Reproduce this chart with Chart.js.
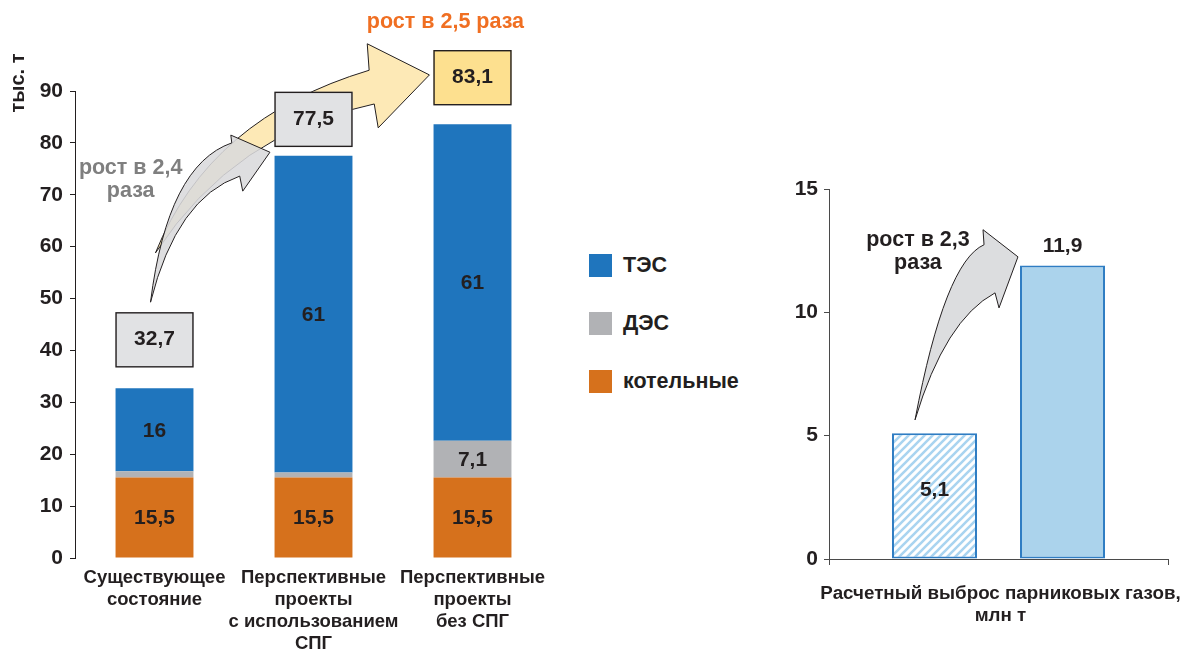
<!DOCTYPE html>
<html lang="ru">
<head>
<meta charset="utf-8">
<script src="https://cdn.jsdelivr.net/npm/chart.js@4.4.1/dist/chart.umd.min.js"></script>
<style>
  body { margin: 0; background: #fff; width: 1184px; height: 653px; position: relative; overflow: hidden;
         font-family: 'Liberation Sans', Arial, sans-serif; }
  #left { position: absolute; left: 0; top: 0; }
  #right { position: absolute; left: 760px; top: 0; }
  .legend { position: absolute; left: 589px; top: 254px; }
  .legend-item { display: flex; align-items: center; height: 23px; margin-bottom: 35px;
                 font-weight: bold; font-size: 21.5px; color: #231f20; }
  .legend-box { width: 23px; height: 23px; margin-right: 11px; }
</style>
</head>
<body>
<canvas id="left" width="560" height="653"></canvas>
<div class="legend" id="legend"></div>
<canvas id="right" width="424" height="653"></canvas>
<script>
const FONT = "'Liberation Sans', Arial, sans-serif";
const INK = '#231f20';

// left chart: fuel consumption by source, тыс. т
const categories = [
  ['Существующее', 'состояние'],
  ['Перспективные', 'проекты', 'с использованием', 'СПГ'],
  ['Перспективные', 'проекты', 'без СПГ']
];
const boilers = [15.5, 15.5, 15.5];      // котельные
const dieselPlants = [1.2, 1.0, 7.1];    // ДЭС
const thermalPlants = [16, 61, 61];      // ТЭС
const totals = [32.7, 77.5, 83.1];
const leftTicks = [0, 10, 20, 30, 40, 50, 60, 70, 80, 90];

// right chart: greenhouse gas emissions, млн т
const emissions = [5.1, 11.9];
const emissionSlots = [1, 2];
const rightTicks = [0, 5, 10, 15];
const emissionTitle = ['Расчетный выброс парниковых газов,', 'млн т'];

const fmt = v => String(v).replace('.', ',');
const font = (size) => 'bold ' + size + 'px ' + FONT;

function at(chart, p) {
  return { x: chart.scales.x.getPixelForValue(p[0]), y: chart.scales.y.getPixelForValue(p[1]) };
}

// curved block arrow, points given in data space of the chart
function drawArrow(chart, a, fill) {
  const ctx = chart.ctx;
  const P = k => at(chart, a[k]);
  const tail = P('tail'), oc = P('outerCtrl'), so = P('shaftOuter'), bo = P('barbOuter'),
        tip = P('tip'), bi = P('barbInner'), si = P('shaftInner'), ic = P('innerCtrl');
  ctx.save();
  ctx.beginPath();
  ctx.moveTo(tail.x, tail.y);
  ctx.quadraticCurveTo(oc.x, oc.y, so.x, so.y);
  ctx.lineTo(bo.x, bo.y);
  ctx.lineTo(tip.x, tip.y);
  ctx.lineTo(bi.x, bi.y);
  ctx.lineTo(si.x, si.y);
  ctx.quadraticCurveTo(ic.x, ic.y, tail.x, tail.y);
  ctx.closePath();
  ctx.fillStyle = fill;
  ctx.fill();
  ctx.lineWidth = 1;
  ctx.strokeStyle = INK;
  ctx.lineJoin = 'miter';
  ctx.stroke();
  ctx.restore();
}

function drawNote(chart, note) {
  const ctx = chart.ctx;
  const p = at(chart, note.at);
  ctx.save();
  ctx.font = font(21.5);
  ctx.fillStyle = note.color;
  ctx.textAlign = 'center';
  ctx.textBaseline = 'middle';
  note.lines.forEach((t, i) => ctx.fillText(t, p.x, p.y + i * 23));
  ctx.restore();
}

const yellowArrow = {
  tail: [0.006, 58.8], outerCtrl: [0.347, 84.8], shaftOuter: [1.350, 94.0], barbOuter: [1.338, 99.1],
  tip: [1.729, 93.1], barbInner: [1.407, 82.9], shaftInner: [1.382, 87.5], innerCtrl: [0.505, 82.1]
};
const greyArrow = {
  tail: [-0.025, 49.3], outerCtrl: [0.082, 75.7], shaftOuter: [0.486, 80.0], barbOuter: [0.480, 81.5],
  tip: [0.726, 78.2], barbInner: [0.555, 70.7], shaftInner: [0.536, 73.6], innerCtrl: [0.139, 69.4]
};
const emissionArrow = {
  tail: [0.848, 5.64], outerCtrl: [1.082, 12.05], shaftOuter: [1.387, 12.74], barbOuter: [1.379, 13.35],
  tip: [1.652, 12.25], barbInner: [1.504, 10.18], shaftInner: [1.473, 10.79], innerCtrl: [1.082, 9.70]
};

const boxFills = ['#e1e2e4', '#e1e2e4', '#fde08f'];
const boxGaps = [22, 10, 20];

const leftDecor = {
  id: 'leftDecor',
  afterDatasetsDraw(chart) {
    const ctx = chart.ctx;
    const area = chart.chartArea;

    // values inside the stacked segments
    ctx.save();
    ctx.font = font(21);
    ctx.fillStyle = INK;
    ctx.textAlign = 'center';
    ctx.textBaseline = 'middle';
    chart.data.datasets.forEach((ds, di) => {
      chart.getDatasetMeta(di).data.forEach((el, i) => {
        if (ds.data[i] < 3) return;
        ctx.fillText(fmt(ds.data[i]), el.x, (el.y + el.base) / 2 + 1);
      });
    });
    ctx.restore();

    drawArrow(chart, yellowArrow, '#fde9b6');

    // total boxes above the bars
    const top = chart.getDatasetMeta(chart.data.datasets.length - 1).data;
    top.forEach((el, i) => {
      const w = el.width;
      const bottom = el.y - boxGaps[i];
      ctx.save();
      ctx.fillStyle = boxFills[i];
      ctx.fillRect(el.x - w / 2, bottom - 54, w, 54);
      ctx.strokeStyle = INK;
      ctx.lineWidth = 1.4;
      ctx.strokeRect(el.x - w / 2 + 0.5, bottom - 54 + 0.5, w - 1, 54);
      ctx.font = font(21);
      ctx.fillStyle = INK;
      ctx.textAlign = 'center';
      ctx.textBaseline = 'middle';
      ctx.fillText(fmt(totals[i]), el.x, bottom - 27);
      ctx.restore();
    });

    drawArrow(chart, greyArrow, 'rgba(217,218,220,0.88)');

    drawNote(chart, { lines: ['рост в 2,4', 'раза'], at: [-0.15, 75.2], color: '#7f7f7f' });
    drawNote(chart, { lines: ['рост в 2,5 раза'], at: [1.83, 103.3], color: '#f06f22' });

    // axis unit
    ctx.save();
    ctx.translate(18, area.top - 8);
    ctx.rotate(-Math.PI / 2);
    ctx.font = font(20);
    ctx.fillStyle = INK;
    ctx.textAlign = 'center';
    ctx.textBaseline = 'middle';
    ctx.fillText('тыс. т', 0, 0);
    ctx.restore();
  }
};

const leftChart = new Chart(document.getElementById('left'), {
  type: 'bar',
  data: {
    labels: categories,
    datasets: [
      { label: 'котельные', data: boilers, backgroundColor: '#d6711c' },
      { label: 'ДЭС', data: dieselPlants, backgroundColor: '#b1b2b5' },
      { label: 'ТЭС', data: thermalPlants, backgroundColor: '#1f75bd' }
    ]
  },
  options: {
    responsive: false,
    animation: false,
    layout: { padding: { top: 91, right: 8, left: 0, bottom: 0 } },
    datasets: { bar: { categoryPercentage: 1, barPercentage: 0.49 } },
    plugins: { legend: { display: false }, tooltip: { enabled: false } },
    scales: {
      x: {
        stacked: true,
        grid: { display: false, drawTicks: false },
        border: { display: false },
        ticks: { color: INK, font: { family: FONT, size: 18.5, weight: 'bold', lineHeight: 1.19 },
                 padding: 9, maxRotation: 0, autoSkip: false },
        afterFit: s => { s.height = 95; }
      },
      y: {
        stacked: true, min: 0, max: 90,
        afterBuildTicks: s => { s.ticks = leftTicks.map(v => ({ value: v })); },
        grid: { drawOnChartArea: false, tickLength: 5, color: INK },
        border: { color: INK, width: 1 },
        ticks: { color: INK, font: { family: FONT, size: 21, weight: 'bold' }, padding: 7 },
        afterFit: s => { s.width = 75; }
      }
    }
  },
  plugins: [leftDecor]
});

// legend, top to bottom as ТЭС, ДЭС, котельные
const legendEl = document.getElementById('legend');
leftChart.data.datasets.slice().reverse().forEach(ds => {
  const item = document.createElement('div');
  item.className = 'legend-item';
  item.innerHTML = '<div class="legend-box" style="background:' + ds.backgroundColor + '"></div>' + ds.label;
  legendEl.appendChild(item);
});

function stripes() {
  const c = document.createElement('canvas');
  c.width = 8; c.height = 8;
  const g = c.getContext('2d');
  g.fillStyle = '#ffffff';
  g.fillRect(0, 0, 8, 8);
  g.strokeStyle = '#a9d4f0';
  g.lineWidth = 2.6;
  g.beginPath();
  g.moveTo(-2, 10); g.lineTo(10, -2);
  g.moveTo(-2, 2); g.lineTo(2, -2);
  g.moveTo(6, 10); g.lineTo(10, 6);
  g.stroke();
  return g.createPattern(c, 'repeat');
}

const rightDecor = {
  id: 'rightDecor',
  afterDatasetsDraw(chart) {
    const ctx = chart.ctx;
    const area = chart.chartArea;
    const els = chart.getDatasetMeta(0).data;
    ctx.save();
    ctx.font = font(21);
    ctx.fillStyle = INK;
    ctx.textAlign = 'center';
    ctx.textBaseline = 'middle';
    ctx.fillText(fmt(emissions[0]), els[0].x, (els[0].y + els[0].base) / 2 - 6);
    ctx.fillText(fmt(emissions[1]), els[1].x, els[1].y - 19);

    // axis caption under the x axis, allowed to run past the plot edges
    ctx.font = font(18.8);
    emissionTitle.forEach((t, i) => ctx.fillText(t, (area.left + area.right) / 2 + 2, area.bottom + 35 + i * 22));
    ctx.restore();

    drawArrow(chart, emissionArrow, '#dcdddf');
    drawNote(chart, { lines: ['рост в 2,3', 'раза'], at: [0.871, 12.94], color: INK });
  }
};

new Chart(document.getElementById('right'), {
  type: 'bar',
  data: {
    datasets: [{
      data: emissionSlots.map((x, i) => ({ x: x, y: emissions[i] })),
      backgroundColor: [stripes(), '#abd3ec'],
      borderColor: '#2f7dc3',
      borderWidth: 2,
      borderSkipped: false
    }]
  },
  options: {
    responsive: false,
    animation: false,
    layout: { padding: { top: 189, right: 16, left: 0, bottom: 0 } },
    datasets: { bar: { categoryPercentage: 1, barPercentage: 0.664 } },
    plugins: { legend: { display: false }, tooltip: { enabled: false } },
    scales: {
      x: {
        type: 'linear', min: 0.176, max: 2.824, offset: false,
        afterBuildTicks: s => { s.ticks = [{ value: s.min }, { value: s.max }]; },
        grid: { drawOnChartArea: false, tickLength: 6, color: '#4a4a4a', offset: false },
        border: { color: '#4a4a4a', width: 1 },
        ticks: { callback: () => '' },
        afterFit: s => { s.height = 94; }
      },
      y: {
        min: 0, max: 15,
        afterBuildTicks: s => { s.ticks = rightTicks.map(v => ({ value: v })); },
        grid: { drawOnChartArea: false, tickLength: 5, color: '#4a4a4a' },
        border: { color: '#4a4a4a', width: 1 },
        ticks: { color: INK, font: { family: FONT, size: 21, weight: 'bold' }, padding: 6 },
        afterFit: s => { s.width = 69; }
      }
    }
  },
  plugins: [rightDecor]
});
</script>
</body>
</html>
